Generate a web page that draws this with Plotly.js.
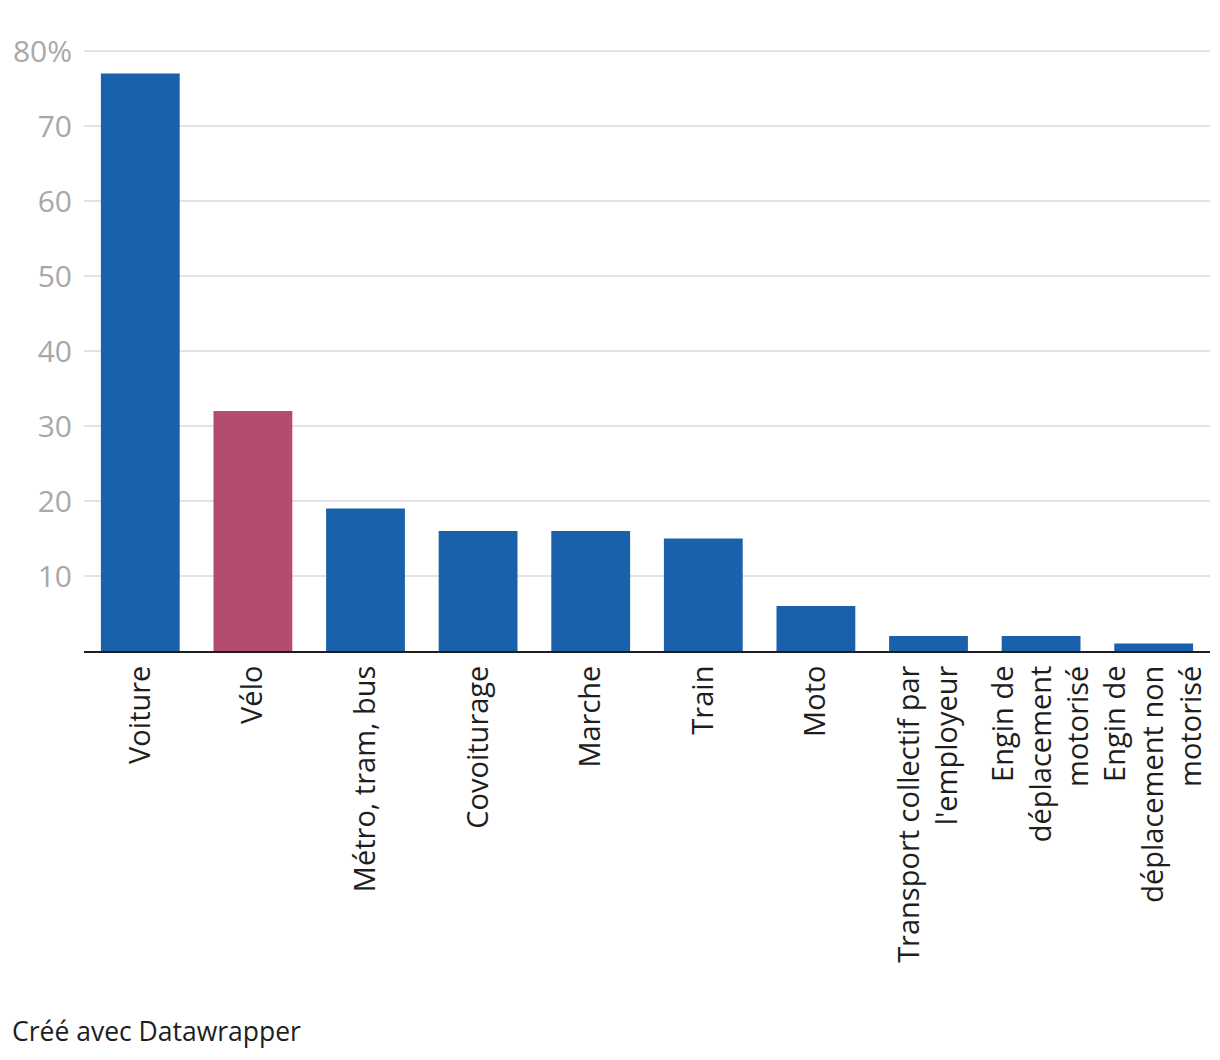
<!DOCTYPE html>
<html>
<head>
<meta charset="utf-8">
<script src="https://cdn.plot.ly/plotly-3.0.1.min.js"></script>
<style>
  html, body { margin: 0; padding: 0; background: #fff; }
  #chart { width: 1220px; height: 1060px; }
</style>
</head>
<body>
<div id="chart"></div>
<script>
const categories = [
  "Voiture",
  "Vélo",
  "Métro, tram, bus",
  "Covoiturage",
  "Marche",
  "Train",
  "Moto",
  "Transport collectif par<br>l'employeur",
  "Engin de<br>déplacement<br>motorisé",
  "Engin de<br>déplacement non<br>motorisé"
];
const values = [77, 32, 19, 16, 16, 15, 6, 2, 2, 1];
const highlighted = "Vélo";
const yTickVals = [10, 20, 30, 40, 50, 60, 70, 80];
const yTickText = ["10", "20", "30", "40", "50", "60", "70", "80%"];

const BLUE = "#1a61ab";
const PINK = "#b34c6f";

const trace = {
  type: "bar",
  x: categories,
  y: values,
  marker: { color: categories.map(c => c === highlighted ? PINK : BLUE) },
  hoverinfo: "none"
};

const layout = {
  width: 1220,
  height: 1060,
  margin: { l: 84, r: 10, t: 50, b: 409 },
  paper_bgcolor: "#fff",
  plot_bgcolor: "#fff",
  bargap: 0.3,
  showlegend: false,
  font: { family: "'Open Sans', Lato, sans-serif", color: "#222" },
  xaxis: {
    type: "category",
    tickangle: -90,
    ticks: "",
    showgrid: false,
    showline: true,
    linecolor: "#1e1e1e",
    linewidth: 2,
    tickfont: { size: 29, color: "#1e1e1e" },
    ticklabelstandoff: 1,
    automargin: false
  },
  yaxis: {
    range: [0, 80.15],
    tickvals: yTickVals,
    ticktext: yTickText,
    ticks: "",
    showgrid: true,
    gridcolor: "#e3e3e3",
    gridwidth: 1.5,
    zeroline: false,
    showline: false,
    tickfont: { size: 30, color: "#a8a8a8" },
    ticklabelstandoff: 11,
    automargin: false
  },
  annotations: [{
    text: "Créé avec Datawrapper",
    xref: "paper", yref: "paper",
    x: -74 / 1126, y: -(1031 - 651) / 601,
    xanchor: "left", yanchor: "middle",
    showarrow: false,
    font: { size: 26.5, color: "#1e1e1e" }
  }]
};

Plotly.newPlot("chart", [trace], layout, { staticPlot: true, displayModeBar: false });
</script>
</body>
</html>
